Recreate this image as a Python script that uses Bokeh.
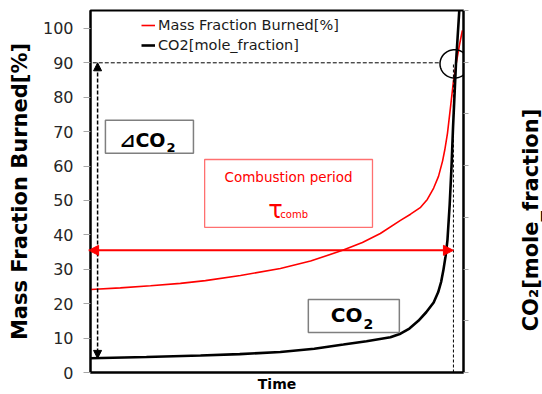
import numpy as np
from bokeh.plotting import figure
from bokeh.layouts import row
from bokeh.models import (Range1d, LinearAxis, Legend, LegendItem, Label, Arrow,
                          NormalHead, BoxAnnotation, PolyAnnotation, FixedTicker)
from bokeh.embed import file_html
from bokeh.resources import INLINE

# Mass fraction burned [%] versus normalised time
mfb_time = [0, 8.0, 16.1, 24.1, 30.8, 40.2, 50.9, 59.0, 67.6, 72.9, 77.7, 83.1, 85.8,
            88.5, 90.3, 92.0, 93.3, 94.4, 95.0, 95.7, 96.5, 97.3, 98.1, 98.9, 99.7]
mfb = [24.1, 24.6, 25.2, 25.9, 26.7, 28.2, 30.2, 32.4, 35.5, 37.8, 40.4, 44.2, 46.0,
       48.0, 50.3, 53.6, 57.0, 61.5, 64.8, 69.5, 77.0, 84.6, 90.1, 95.1, 99.4]

# CO2 mole fraction versus normalised time
co2_time = [0, 15, 29.5, 40, 50.9, 60, 67.8, 74, 80.4, 83.1, 85.5, 87.9, 90.0, 92.0,
            93.2, 94.0, 94.6, 95.2, 95.7, 96.3, 96.8, 97.2, 98.0, 98.7, 99.3]
co2 = [0.0055, 0.0060, 0.0066, 0.0071, 0.0079, 0.0092, 0.0108, 0.0121, 0.0136, 0.0150,
       0.0170, 0.0200, 0.0233, 0.0271, 0.0310, 0.0350, 0.0395, 0.0450, 0.0512, 0.0650,
       0.0800, 0.0950, 0.1200, 0.1360, 0.1500]

mfb_ticks = [0, 10, 20, 30, 40, 50, 60, 70, 80, 90, 100]
co2_ticks = [0, 0.02, 0.04, 0.06, 0.08, 0.10, 0.12, 0.14]

# Reference levels for the annotations
mfb_target = 90.0        # 90 % burned
t_comb_end = 97.3        # end of combustion period
co2_start_level = 4.1    # initial CO2 level on the left scale
tau_level = 35.5         # height of the combustion-period arrow

FONT = "DejaVu Sans"
RED = "#ff0000"

p = figure(width=512, height=394, output_backend="svg", toolbar_location=None,
           x_range=Range1d(0, 100), y_range=Range1d(0, 105.2),
           min_border_left=90, min_border_right=49, min_border_top=10,
           min_border_bottom=22)
p.extra_y_ranges = {"co2": Range1d(0, 0.14)}

p.xgrid.visible = False
p.ygrid.visible = False
p.outline_line_color = "black"
p.outline_line_width = 2
p.background_fill_color = "white"
p.border_fill_color = "white"

# left axis
ya = p.yaxis[0]
ya.ticker = FixedTicker(ticks=mfb_ticks)
ya.axis_line_color = "black"
ya.axis_line_width = 2
ya.major_tick_line_color = "#a6a6a6"
ya.major_tick_in = 0
ya.major_tick_out = 7
ya.minor_tick_line_color = None
ya.major_label_text_font = FONT
ya.major_label_text_font_size = "16px"
ya.major_label_text_color = "#262626"
ya.major_label_standoff = 10
ya.axis_label = "Mass Fraction Burned[%]"
ya.axis_label_text_font = FONT
ya.axis_label_text_font_style = "bold"
ya.axis_label_text_font_size = "21px"
ya.axis_label_text_color = "black"
ya.axis_label_standoff = 8

# bottom axis: title only
xa = p.xaxis[0]
xa.ticker = FixedTicker(ticks=[])
xa.axis_line_color = "black"
xa.axis_line_width = 2
xa.major_tick_line_color = None
xa.minor_tick_line_color = None
xa.major_tick_out = 0
xa.major_label_standoff = 0
xa.axis_label = "Time"
xa.axis_label_text_font = FONT
xa.axis_label_text_font_style = "bold"
xa.axis_label_text_font_size = "14px"
xa.axis_label_text_color = "black"
xa.axis_label_standoff = 3

# right axis (CO2 scale, tick marks without labels)
ra = LinearAxis(y_range_name="co2", ticker=FixedTicker(ticks=[], minor_ticks=co2_ticks))
ra.axis_line_color = "black"
ra.axis_line_width = 2
ra.major_tick_line_color = None
ra.minor_tick_line_color = "#a6a6a6"
ra.minor_tick_in = 0
ra.minor_tick_out = 5
ra.major_label_standoff = 0
p.add_layout(ra, "right")

# curves
r_mfb = p.line(mfb_time, mfb, line_color=RED, line_width=1.6)
r_co2 = p.line(co2_time, co2, y_range_name="co2", line_color="black", line_width=2.6)

legend = Legend(items=[LegendItem(label="Mass Fraction Burned[%]", renderers=[r_mfb]),
                       LegendItem(label="CO2[mole_fraction]", renderers=[r_co2])],
                location=(51, 317), border_line_color=None, background_fill_alpha=0,
                padding=0, spacing=0, margin=0, label_height=20, glyph_height=20,
                glyph_width=14, label_standoff=3,
                label_text_font=FONT, label_text_font_size="14.5px",
                label_text_color="#1a1a1a")
p.add_layout(legend)

# dashed guide lines at 90 % burned / end of combustion
p.add_layout(Arrow(end=None, x_start=-1.0, y_start=mfb_target, x_end=93.6, y_end=mfb_target,
                   line_color="black", line_width=1, line_dash="4 2"))
p.add_layout(Arrow(end=None, x_start=t_comb_end, y_start=0, x_end=t_comb_end, y_end=mfb_target,
                   line_color="black", line_width=1, line_dash="3 2"))

# circle marking the 90 % point
ang = np.linspace(0, 2 * np.pi, 73)
cx, cy = 97.6, 89.7
p.add_layout(PolyAnnotation(xs=list(cx + 3.9 * np.cos(ang)), ys=list(cy + 4.1 * np.sin(ang)),
                            fill_alpha=0, line_color="black", line_alpha=1, line_width=1.5))

# delta CO2 arrow
p.add_layout(Arrow(start=NormalHead(size=8, fill_color="black", line_color="black"),
                   end=NormalHead(size=8, fill_color="black", line_color="black"),
                   x_start=1.9, y_start=co2_start_level, x_end=1.9, y_end=mfb_target,
                   line_color="black", line_width=1.5, line_dash="4 2"))

# combustion period arrow
p.add_layout(Arrow(start=NormalHead(size=10, fill_color=RED, line_color=RED),
                   end=NormalHead(size=10, fill_color=RED, line_color=RED),
                   x_start=-0.5, y_start=tau_level, x_end=t_comb_end, y_end=tau_level,
                   line_color=RED, line_width=2))


def sub_label(fig, x, y, main, sub, size, sub_size, drop):
    """Bold chemical formula with a lowered subscript, main text ending at x."""
    fig.add_layout(Label(x=x, y=y, text=main, text_align="right", text_baseline="middle",
                         text_font=FONT, text_font_style="bold", text_font_size=f"{size}px",
                         text_color="black"))
    fig.add_layout(Label(x=x, y=y, y_offset=-drop, x_offset=1, text=sub, text_align="left",
                         text_baseline="middle", text_font=FONT, text_font_style="bold",
                         text_font_size=f"{sub_size}px", text_color="black"))


# text boxes
p.add_layout(BoxAnnotation(left=4.0, right=27.6, bottom=63.7, top=73.3, fill_alpha=0,
                           line_color="#7f7f7f", line_alpha=1, line_width=1.5))
sub_label(p, 20.1, 67.7, "⊿CO", "2", 19, 13, 8)

p.add_layout(BoxAnnotation(left=30.6, right=75.6, bottom=42.2, top=61.9, fill_alpha=0,
                           line_color="#ff7070", line_alpha=1, line_width=1.3))
p.add_layout(Label(x=53.1, y=56.7, text="Combustion period", text_align="center",
                   text_baseline="middle", text_font=FONT, text_font_size="13.5px",
                   text_color=RED))
p.add_layout(Label(x=49.6, y=47.2, text="τ", text_align="center", text_baseline="middle",
                   text_font=FONT, text_font_size="24px", text_color=RED))
p.add_layout(Label(x=50.9, y=45.8, text="comb", text_align="left", text_baseline="middle",
                   text_font=FONT, text_font_size="10px", text_color=RED))

p.add_layout(BoxAnnotation(left=58.4, right=82.8, bottom=11.6, top=21.2, fill_alpha=0,
                           line_color="#7f7f7f", line_alpha=1, line_width=1.5))
sub_label(p, 72.9, 16.6, "CO", "2", 20, 14, 9)

# narrow strip holding the right-hand axis title, reading upwards
side = figure(width=30, height=394, output_backend="svg", toolbar_location=None,
              x_range=Range1d(0, 30), y_range=Range1d(0, 394),
              min_border_left=0, min_border_right=0, min_border_top=0, min_border_bottom=0)
side.axis.visible = False
side.grid.visible = False
side.outline_line_color = None
side.background_fill_color = "white"
side.border_fill_color = "white"
side.add_layout(Label(x=18, y=166, text="CO₂[mole_fraction]", angle=np.pi / 2,
                      text_align="center", text_baseline="middle", text_font=FONT,
                      text_font_style="bold", text_font_size="21px", text_color="black"))

layout = row(p, side, spacing=0)
open("out.html", "w").write(file_html(layout, INLINE))
